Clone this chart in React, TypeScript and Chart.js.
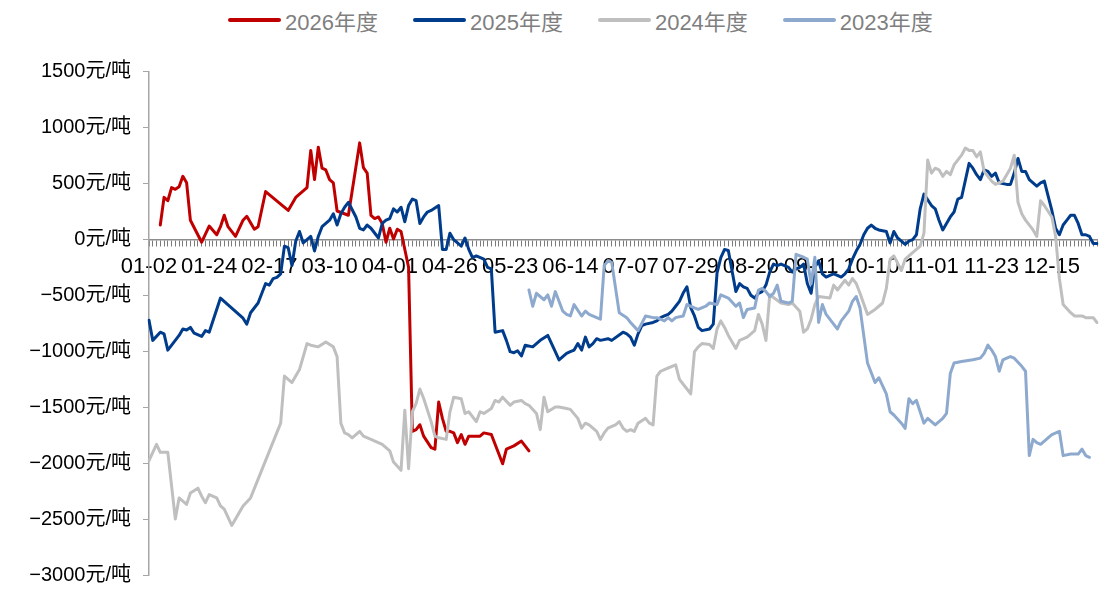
import React, { useEffect, useRef } from "react";
import { Chart, registerables } from "chart.js";

Chart.register(...registerables);

// ---- categories / tick labels ----
const N = 253; // trading-day categories on the x axis
const TICK_EVERY = 16;
const tickLabels = [
  "01-02", "01-24", "02-17", "03-10", "04-01", "04-26", "05-23", "06-14",
  "07-07", "07-29", "08-20", "09-11", "10-10", "11-01", "11-23", "12-15",
];

// ---- series (category index, value 元/吨) ----
const idx2026 = [3,4,5,6,7,8,9,10,11,14,16,18,19,20,21,23,25,26,28,29,31,37,39,42,43,44,45,46,47,48,49,50,53,56,57,58,59,60,61,62,63,64,65,66,67,69,70,71,72,73,75,76,77,78,79,80,81,82,83,84,85,88,89,91,94,95,97,99,101];
const val2026 = [128,375,345,462,447,470,563,505,171,-26,119,41,113,215,113,26,171,206,90,113,427,258,374,462,795,534,824,636,620,534,505,253,215,862,640,592,215,186,200,142,-26,99,3,90,70,-250,-1716,-1701,-1657,-1759,-1861,-1875,-1454,-1600,-1716,-1716,-1730,-1817,-1745,-1832,-1759,-1759,-1730,-1745,-2006,-1875,-1846,-1803,-1890];

const idx2025 = [0,1,3,4,5,8,9,10,11,12,14,15,16,19,25,26,27,29,30,31,32,33,34,35,36,37,38,39,40,41,42,43,44,45,46,48,49,50,51,52,53,55,56,57,58,59,61,62,63,64,65,66,67,68,69,70,71,72,73,74,75,77,78,79,80,81,83,84,85,86,87,89,90,91,92,94,95,96,97,98,99,100,102,103,104,106,108,109,111,112,113,114,115,116,117,118,119,120,122,123,126,127,128,129,130,131,132,134,135,136,137,138,139,140,141,142,143,144,145,146,147,149,150,151,152,153,154,156,157,158,159,160,161,162,163,164,165,166,167,168,170,171,172,173,174,175,176,177,178,179,180,181,182,183,184,185,186,187,188,189,190,191,192,193,194,196,197,198,199,200,201,202,203,204,205,206,208,209,210,211,212,213,214,215,216,218,219,220,221,222,223,224,225,226,228,229,230,231,232,233,234,236,237,238,239,240,241,242,243,244,245,246,247,248,249,250,251,252];
const val2025 = [-723,-903,-830,-845,-990,-859,-801,-810,-787,-839,-868,-816,-830,-525,-705,-758,-656,-569,-482,-395,-409,-351,-340,-308,-61,-75,-235,-17,70,-32,-3,26,-104,26,113,171,229,128,229,287,331,200,99,84,128,99,12,142,171,186,273,244,287,157,302,360,345,142,200,244,258,302,-90,-90,55,-3,-61,12,-90,-163,-148,-177,-250,-264,-830,-816,-903,-1004,-1013,-996,-1042,-946,-961,-932,-903,-859,-1004,-1077,-1019,-1004,-990,-932,-990,-874,-961,-932,-888,-903,-888,-903,-830,-845,-874,-946,-845,-772,-758,-743,-729,-700,-685,-671,-642,-598,-554,-480,-424,-610,-685,-787,-816,-801,-758,-300,-163,-90,-100,-467,-395,-424,-438,-500,-525,-482,-467,-409,-293,-221,-235,-221,-250,-293,-264,-250,-221,-395,-482,-250,-192,-308,-337,-322,-308,-322,-337,-308,-264,-177,-105,-46,41,99,128,99,84,70,-32,70,12,-17,-46,-17,-3,41,273,404,302,273,171,84,142,200,244,360,374,679,636,578,534,621,607,563,592,505,491,491,592,723,607,607,534,476,505,520,389,258,99,41,128,171,215,215,142,41,41,26,-38,-38];

const idx2024 = [0,2,3,5,7,8,10,11,13,14,15,16,18,19,20,22,25,27,35,36,38,40,42,43,45,47,49,50,51,52,53,54,56,57,59,62,64,65,67,68,69,70,71,72,73,75,76,77,79,80,81,83,84,85,87,88,89,91,92,93,94,96,97,99,100,101,103,104,105,106,108,109,111,112,114,115,116,117,119,120,121,122,124,125,126,127,128,129,130,132,133,134,135,136,137,138,140,141,143,144,145,146,147,149,150,151,152,153,154,156,157,159,161,162,163,164,165,168,170,171,173,174,175,176,177,178,181,182,183,185,186,187,188,189,191,193,194,195,196,197,198,200,201,205,206,207,208,209,210,211,212,213,214,216,217,218,219,220,221,222,223,224,225,227,229,230,231,232,233,235,236,237,238,240,241,242,243,245,246,248,249,251,252];
const val2024 = [-1977,-1832,-1904,-1904,-2500,-2311,-2369,-2267,-2224,-2296,-2354,-2282,-2311,-2383,-2412,-2557,-2383,-2311,-1643,-1222,-1280,-1164,-932,-946,-961,-917,-961,-1048,-1643,-1730,-1745,-1774,-1716,-1759,-1788,-1832,-1890,-1991,-2064,-1527,-2050,-1541,-1469,-1338,-1420,-1629,-1759,-1774,-1788,-1541,-1411,-1425,-1556,-1541,-1629,-1541,-1556,-1512,-1440,-1454,-1411,-1483,-1454,-1440,-1469,-1483,-1556,-1701,-1411,-1541,-1498,-1498,-1512,-1520,-1600,-1687,-1643,-1658,-1716,-1788,-1730,-1687,-1658,-1629,-1687,-1716,-1701,-1716,-1643,-1600,-1643,-1658,-1222,-1179,-1164,-1150,-1121,-1251,-1338,-1382,-1004,-961,-932,-940,-975,-801,-729,-787,-859,-975,-903,-874,-816,-671,-758,-903,-496,-569,-583,-569,-642,-830,-801,-714,-583,-511,-525,-409,-453,-366,-409,-351,-395,-482,-671,-627,-598,-569,-438,-177,-148,-279,-177,-61,55,708,592,636,621,563,607,578,665,752,816,795,795,737,781,607,563,520,491,520,636,752,331,229,171,84,26,345,302,200,26,-350,-583,-656,-685,-685,-700,-700,-743];

const idx2023 = [101,102,103,105,106,107,108,110,111,112,113,115,116,117,119,120,121,122,123,125,127,128,130,132,134,135,137,138,139,140,142,143,145,146,148,149,151,152,154,156,157,158,159,161,162,163,164,165,166,167,168,170,171,172,174,175,176,177,178,179,180,182,183,184,186,187,188,189,191,193,194,196,197,198,200,201,202,203,204,206,207,209,211,212,213,214,216,219,221,222,223,224,225,226,227,228,229,230,232,233,234,235,236,237,238,240,242,243,245,247,248,249,250];
const val2023 = [-453,-598,-482,-540,-496,-598,-467,-642,-671,-685,-583,-685,-642,-671,-700,-714,-235,-192,-206,-656,-700,-743,-816,-685,-700,-700,-729,-700,-729,-700,-685,-583,-613,-627,-598,-569,-583,-496,-525,-598,-569,-700,-627,-613,-453,-438,-467,-511,-482,-409,-554,-569,-554,-134,-160,-177,-400,-160,-743,-583,-671,-758,-801,-729,-642,-554,-511,-613,-1106,-1280,-1237,-1382,-1541,-1570,-1643,-1690,-1425,-1469,-1440,-1643,-1600,-1658,-1600,-1556,-1200,-1106,-1092,-1077,-1062,-1019,-946,-990,-1048,-1179,-1077,-1062,-1048,-1062,-1135,-1179,-1933,-1788,-1817,-1832,-1803,-1745,-1716,-1933,-1919,-1919,-1875,-1933,-1948];

// ---- y axis ----
const yMin = -3000;
const yMax = 1500;
const yStep = 500;
const yUnit = "元/吨";

const seriesNames = ["2026年度", "2025年度", "2024年度", "2023年度"];
const seriesColors = ["#C00000", "#003C8C", "#BFBFBF", "#8EA9CE"];

const FONT = "'Liberation Sans', Arial, 'Noto Sans CJK SC', sans-serif";

function expand(idx: number[], val: number[]): (number | null)[] {
  const a: (number | null)[] = new Array(N).fill(null);
  idx.forEach((k, j) => {
    a[k] = val[j];
  });
  return a;
}

export default function App() {
  const ref = useRef<HTMLCanvasElement | null>(null);

  useEffect(() => {
    if (!ref.current) return;
    const categories = Array.from({ length: N }, (_, i) =>
      i % TICK_EVERY === 0 ? tickLabels[i / TICK_EVERY] ?? "" : ""
    );
    const raw = [
      expand(idx2026, val2026),
      expand(idx2025, val2025),
      expand(idx2024, val2024),
      expand(idx2023, val2023),
    ];
    const datasets = raw.map((d, k) => ({
      label: seriesNames[k],
      data: d,
      borderColor: seriesColors[k],
      backgroundColor: seriesColors[k],
      borderWidth: 3,
      pointRadius: 0,
      pointHoverRadius: 0,
      tension: 0,
      spanGaps: true,
      borderJoinStyle: "round" as const,
      borderCapStyle: "round" as const,
      order: 3 - k,
    }));

    const chart = new Chart(ref.current, {
      type: "line",
      data: { labels: categories, datasets },
      options: {
        animation: false,
        responsive: true,
        maintainAspectRatio: false,
        layout: { padding: { left: 0, right: 9, top: 71.5, bottom: 12 } },
        plugins: {
          legend: { display: false },
          tooltip: { enabled: false },
        },
        scales: {
          x: {
            type: "category",
            position: { y: 0 } as any,
            offset: false,
            grid: {
              display: true,
              drawOnChartArea: false,
              drawTicks: true,
              tickLength: 6,
              color: "#7a7a7a",
              tickColor: "#7a7a7a",
              tickWidth: 1,
              lineWidth: 1,
            },
            border: { display: true, color: "#8c8c8c", width: 1.5 },
            ticks: {
              autoSkip: false,
              maxRotation: 0,
              minRotation: 0,
              padding: 8,
              color: "#000",
              font: { size: 22, family: FONT },
              callback: (_v: any, i: number) =>
                i % TICK_EVERY === 0 ? tickLabels[i / TICK_EVERY] ?? "" : "",
            },
          },
          y: {
            min: yMin,
            max: yMax,
            afterFit: (s: any) => {
              s.width = 149;
            },
            grid: {
              display: true,
              drawOnChartArea: false,
              drawTicks: true,
              tickLength: 6,
              color: "#a6a6a6",
              tickColor: "#a6a6a6",
            },
            border: { display: true, color: "#a6a6a6", width: 1.5 },
            ticks: {
              stepSize: yStep,
              padding: 12,
              color: "#000",
              font: { size: 20, family: FONT },
              callback: (v: any) =>
                (Number(v) < 0 ? "\u2212" : "") + Math.abs(Number(v)) + yUnit,
            },
          },
        },
      },
    });
    return () => chart.destroy();
  }, []);

  return (
    <div
      style={{
        position: "absolute",
        left: 0,
        top: 0,
        width: 1106,
        height: 599,
        background: "#fff",
      }}
    >
      <div
        style={{
          position: "absolute",
          top: 4,
          left: 228,
          display: "flex",
          alignItems: "center",
          gap: 35,
          fontFamily: FONT,
          fontSize: 22,
          color: "#7f7f7f",
          whiteSpace: "nowrap",
        }}
      >
        {seriesNames.map((n, k) => (
          <div key={n} style={{ display: "flex", alignItems: "center" }}>
            <span
              style={{
                display: "inline-block",
                width: 53,
                height: 4,
                borderRadius: 2,
                background: seriesColors[k],
                marginRight: 4,
              }}
            />
            <span>{n}</span>
          </div>
        ))}
      </div>
      <canvas ref={ref} style={{ position: "absolute", left: 0, top: 0 }} />
    </div>
  );
}
